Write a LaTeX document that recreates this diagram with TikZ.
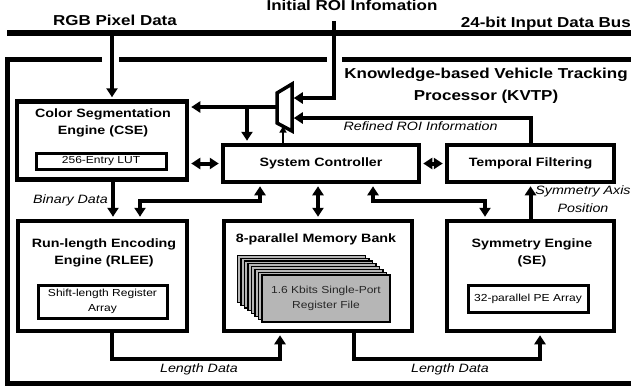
\documentclass[tikz,border=0pt]{standalone}
\usepackage{fontspec}
\setmainfont{Liberation Sans}[FakeStretch=1.18]
\usetikzlibrary{arrows.meta}
\definecolor{sheetgray}{RGB}{182,182,182}

\tikzset{
  >={Triangle[length=9pt,width=11pt]},
  bus/.style={line width=6.5pt},
  frame/.style={line width=5pt, line join=miter},
  block/.style={draw, line width=4.5pt, inner sep=0pt, align=center,
                font=\bfseries\fontsize{12.1}{17}\selectfont},
  subblock/.style={draw, line width=3pt, inner sep=0pt, align=center,
                font=\fontsize{10.2}{15}\selectfont},
  sheet/.style={draw, line width=1.2pt, fill=sheetgray, inner sep=0pt, align=center,
                minimum width=128pt, minimum height=47pt,
                font=\fontsize{10.2}{15}\selectfont, text=black!85},
  conn/.style={line width=4pt, line join=miter},
  sel/.style={line width=2pt, -{Triangle[length=6pt,width=7pt]}},
  mux/.style={line width=3.5pt, line join=miter},
  ttl/.style={font=\bfseries\fontsize{12.1}{17}\selectfont, align=center, inner sep=0pt, anchor=north},
  big/.style={font=\bfseries\fontsize{14.4}{22}\selectfont, align=center, inner sep=0pt, anchor=north},
  lbl/.style={font=\itshape\fontsize{12.1}{18}\selectfont, align=center, inner sep=0pt, anchor=north},
}

\begin{document}
\begin{tikzpicture}[x=1pt, y=-1pt]
\useasboundingbox (0,0) rectangle (631,389);

% ---- input data bus and processor outline ----
\coordinate (busw) at (7,33);
\coordinate (buse) at (631,33);
\draw[bus] (busw) -- (buse);

\coordinate (ftl) at (7,59);
\coordinate (fbl) at (7,383);
\coordinate (fbr) at (631,383);
\coordinate (g1a) at (102,59);
\coordinate (g1b) at (119,59);
\coordinate (g2a) at (327,59);
\coordinate (g2b) at (342,59);
\coordinate (ftr) at (631,59);
\draw[frame] (g1a) -- (ftl) -- (fbl) -- (fbr);
\draw[frame] (g1b) -- (g2a);
\draw[frame] (g2b) -- (ftr);

% ---- headings ----
\node[big] (rgbt) at (115,14.5) {RGB Pixel Data};
\node[big] (roit) at (352,-0.5) {Initial ROI Infomation};
\node[big, anchor=north east] (bust) at (631,16.7) {24-bit Input Data Bus};
\node[big] (kvtp) at (486,68) {Knowledge-based Vehicle Tracking\\Processor (KVTP)};

% ---- engines ----
\node[block, minimum width=170pt, minimum height=78pt] (cse) at (102,140.5) {};
\node[ttl] (cset) at (103,109) {Color Segmentation\\Engine (CSE)};
\node[subblock, minimum width=130pt, minimum height=16pt] (lut) at (101,161) {256-Entry LUT};

\node[block, minimum width=196pt, minimum height=37pt] (sc) at (321,163.5) {System Controller};
\node[block, minimum width=167pt, minimum height=37pt] (tf) at (530.5,163.5) {Temporal Filtering};

\node[block, minimum width=169pt, minimum height=110pt] (rlee) at (102.5,276) {};
\node[ttl] (rleet) at (104,239) {Run-length Encoding\\Engine (RLEE)};
\node[subblock, minimum width=129pt, minimum height=33pt] (slr) at (102.5,301.5) {Shift-length Register\\Array};

\node[block, minimum width=188pt, minimum height=110pt] (mem) at (318,276) {};
\node[ttl] (memt) at (316,234) {8-parallel Memory Bank};
\coordinate (regc) at (326,298.5);
\foreach \k in {7,6,...,1}
  \node[sheet] (sh\k) at ([shift={(-3.5*\k,-2.8*\k)}]regc) {};
\node[sheet] (reg) at (regc) {1.6 Kbits Single-Port\\Register File};

\node[block, minimum width=167pt, minimum height=110pt] (se) at (530.5,276) {};
\node[ttl] (set) at (532,239) {Symmetry Engine\\(SE)};
\node[subblock, minimum width=120pt, minimum height=27pt] (pe) at (528,299) {32-parallel PE Array};

% ---- ROI multiplexer ----
\coordinate (m1) at (277,93);
\coordinate (m2) at (292,84);
\coordinate (m3) at (292,131);
\coordinate (m4) at (277,123);
\draw[mux] (m1) -- (m2) -- (m3) -- (m4) -- cycle;
\coordinate (muxo) at (277,107);
\coordinate (muxa) at (292,98);
\coordinate (muxb) at (292,118);
\coordinate (muxs) at (283,126.5);

% ---- connectors ----
\coordinate (rgbsrc) at (112,33);
\draw[conn, ->, shorten >=2pt] (rgbsrc) -- (rgbsrc |- cse.north);
\coordinate (roisrc) at (334,21);
\draw[conn, ->, shorten >=1.75pt] (roisrc) |- (muxa);
\draw[conn, ->, shorten >=1.75pt] (tf.north) |- (muxb);
\draw[conn, ->, shorten >=2pt] (muxo) -- (muxo -| cse.east);
\coordinate (jn) at (247,107);
\draw[conn, ->, shorten >=2pt] (jn) -- (jn |- sc.north);
\draw[sel] (muxs |- sc.north) -- (muxs);

\draw[conn, <->, shorten >=2pt, shorten <=2pt] (cse.east |- sc.west) -- (sc.west);
\draw[conn, <->, shorten >=2pt, shorten <=2pt] (sc.east) -- (tf.west);
\draw[conn, ->, shorten >=2pt] (se.north) -- (tf.south);

\draw[conn, ->, shorten >=2pt] ([xshift=11pt]cse.south) -- ([xshift=10.5pt]rlee.north);
\coordinate (b1) at (140,201);
\draw[conn, <->, shorten >=2pt, shorten <=2pt] ([xshift=-61pt]sc.south) |- (b1) -- (b1 |- rlee.north);
\draw[conn, <->, shorten >=2pt, shorten <=2pt] (mem.north |- sc.south) -- (mem.north);
\coordinate (b2) at (485,201);
\draw[conn, <->, shorten >=2pt, shorten <=2pt] ([xshift=52pt]sc.south) |- (b2) -- (b2 |- se.north);

\coordinate (l1) at (112,359);
\coordinate (l2) at (280,359);
\draw[conn, ->, shorten >=2pt] (l1 |- rlee.south) -- (l1) -- (l2) -- (l2 |- mem.south);
\coordinate (l3) at (354,359);
\coordinate (l4) at (540,359);
\draw[conn, ->, shorten >=2pt] (l3 |- mem.south) -- (l3) -- (l4) -- (l4 |- se.south);

% ---- signal labels ----
\node[lbl] (bin) at (70.5,194.5) {Binary Data};
\node[lbl] (ref) at (420.5,121.5) {Refined ROI Information};
\node[lbl] (len1) at (199,364) {Length Data};
\node[lbl] (len2) at (450,364) {Length Data};
\node[lbl] (sym) at (583,186) {Symmetry Axis\\Position};
\end{tikzpicture}
\end{document}
